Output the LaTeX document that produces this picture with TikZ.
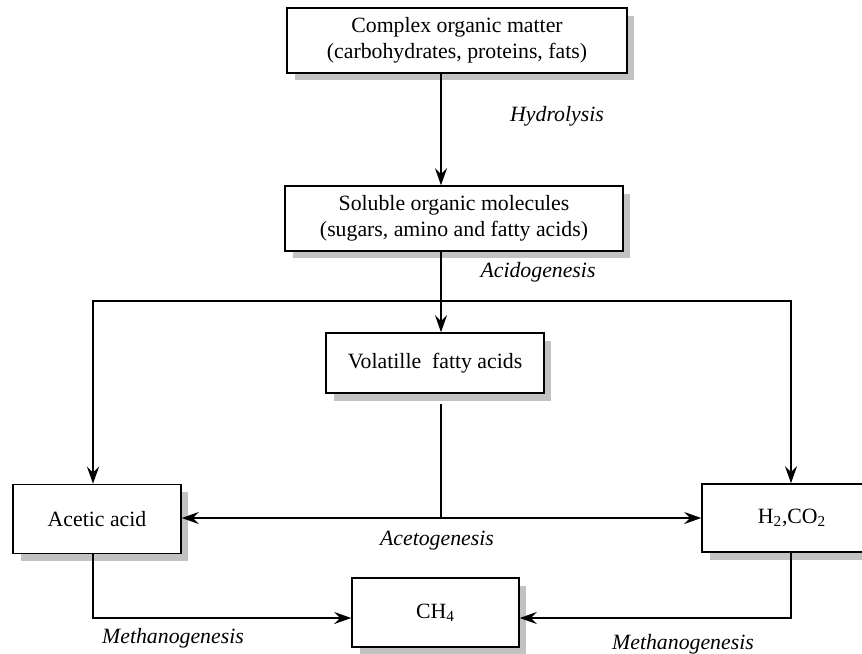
\documentclass[tikz,border=0pt]{standalone}
\usepackage{fontspec}
\setmainfont{Liberation Serif}
\usetikzlibrary{arrows.meta,shadows}

\begin{document}
\begin{tikzpicture}[x=0.02cm, y=-0.02cm, >={Stealth[length=3.4mm, width=2.4mm, inset=1.2mm]},
		font=\fontsize{12.4}{15}\selectfont,
		stage/.style={draw, rectangle, line width=0.9pt, fill=white, align=center, inner sep=2pt,
			drop shadow={shadow xshift=0.15cm, shadow yshift=-0.15cm, fill=black!24, opacity=1}},
		proc/.style={font=\fontsize{12.4}{15}\selectfont\itshape},
		flow/.style={line width=1pt}]
				\clip (0,0) rectangle (862,653);
				% stages
				\node[stage, minimum width=6.8cm, minimum height=1.3cm] (organic)at(457, 40.5) {Complex organic matter\\(carbohydrates, proteins, fats)};
				\node[stage, minimum width=6.76cm, minimum height=1.3cm] (soluble)at(454, 218.5) {Soluble organic molecules\\(sugars, amino and fatty acids)};
				\node[stage, minimum width=4.36cm, minimum height=1.2cm] (vfa)at(435, 363) {Volatille~ fatty acids};
				\node[stage, minimum width=3.36cm, minimum height=1.38cm] (acetic)at(97, 519) {Acetic acid};
				\node[stage, minimum width=3.6cm, minimum height=1.36cm] (gas)at(792, 518) {H\textsubscript{2},CO\textsubscript{2}};
				\node[stage, minimum width=3.34cm, minimum height=1.38cm] (methane)at(435.5, 612.5) {CH\textsubscript{4}};
				% process names
				\node[proc] (hydro)at(557, 116) {Hydrolysis};
				\node[proc] (acido)at(538, 272) {Acidogenesis};
				\node[proc] (aceto)at(437, 541) {Acetogenesis};
				\node[proc] (methL)at(173, 638) {Methanogenesis};
				\node[proc] (methR)at(683, 644) {Methanogenesis};
				% helper points
				\coordinate (spine)at(441, 0);
				\coordinate (leftbus)at(93, 0);
				\coordinate (rightbus)at(791, 0);
				\coordinate (split)at(441, 301);
				\coordinate (join)at(441, 518);
				\coordinate (mline)at(0, 618);
				% connectors
				\draw[->, flow] (organic.south -| spine) -- (soluble.north -| spine);
				\draw[->, flow] (soluble.south -| spine) -- (vfa.north -| spine);
				\draw[->, flow] (split) -| (acetic.north -| leftbus);
				\draw[->, flow] (split) -| (gas.north -| rightbus);
				\draw[flow, shorten <=0.2cm] (vfa.south -| spine) -- (join);
				\draw[->, flow] (join) -- (acetic.east |- join);
				\draw[->, flow] (join) -- (gas.west |- join);
				\draw[->, flow] (acetic.south -| leftbus) |- (methane.west |- mline);
				\draw[->, flow] (gas.south -| rightbus) |- (methane.east |- mline);
			\end{tikzpicture}
\end{document}
